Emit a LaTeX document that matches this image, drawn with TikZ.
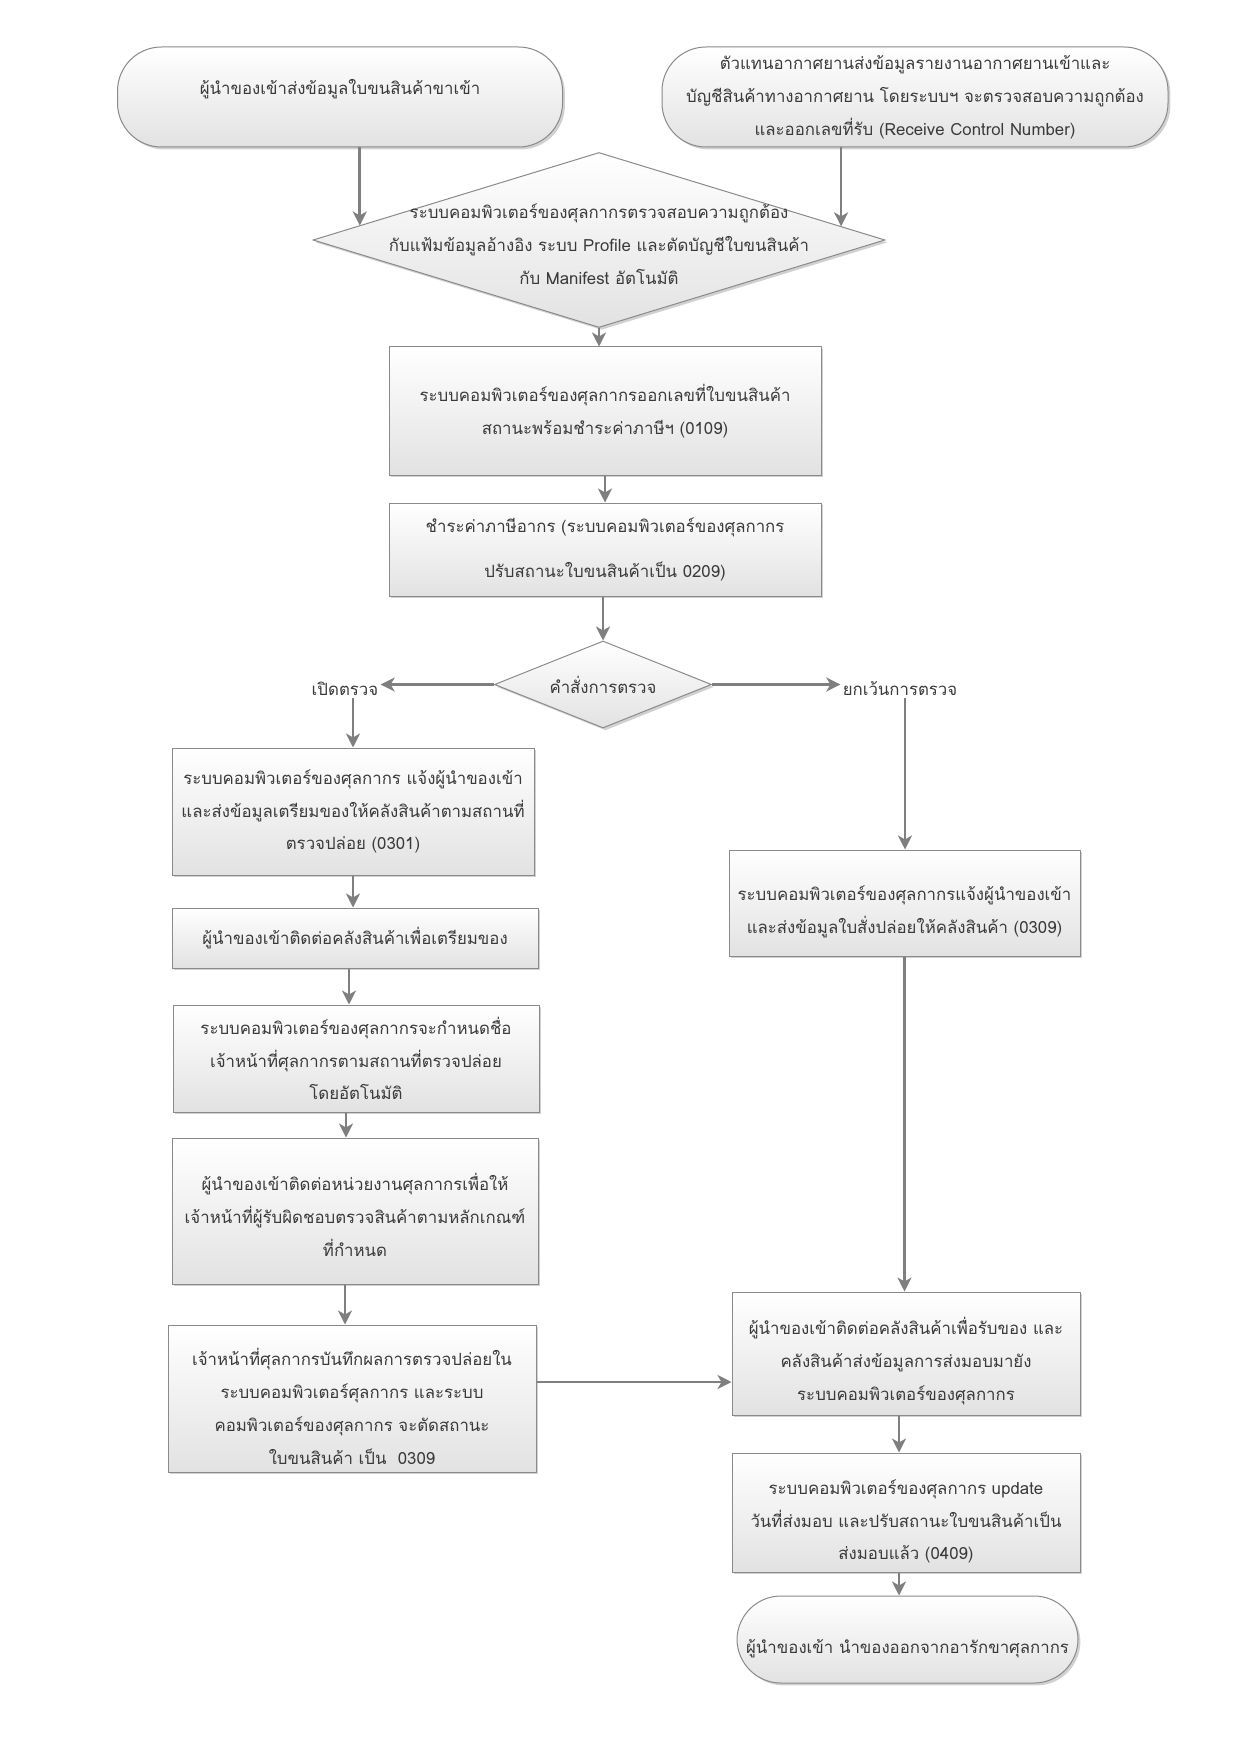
\documentclass[tikz,border=0pt]{standalone}
\usepackage{fontspec}
\newfontfamily\thai[Script=Thai]{Loma}
\usetikzlibrary{shapes.geometric,shadows,arrows.meta,calc}
\definecolor{edgec}{HTML}{8A8A8A}
\definecolor{arrowc}{HTML}{7F7F7F}
\definecolor{txtc}{HTML}{3A3A3A}
\definecolor{shadebot}{HTML}{E2E2E2}
\tikzset{
  basebox/.style={draw=edgec, line width=0.5pt, top color=white, bottom color=shadebot,
    inner sep=0pt, align=center, text=txtc, font=\thai\fontsize{8.4}{16.4}\selectfont,
    drop shadow={shadow xshift=1.2pt, shadow yshift=-1.2pt, opacity=0.18, fill=black}},
  procbox/.style={basebox, rectangle},
  termbox/.style={basebox, rectangle, rounded corners=22pt},
  diabox/.style={basebox, diamond},
  lbl/.style={text=txtc, align=center, inner sep=1pt, font=\thai\fontsize{8.4}{16.4}\selectfont},
  arr/.style={draw=arrowc, line width=1.3pt, -{Stealth[length=7pt,width=7pt,inset=2pt]}},
  sz/.style 2 args={minimum width={#1*0.5pt}, minimum height={#2*0.5pt}}
}
\begin{document}
\begin{tikzpicture}[x=0.5pt,y=-0.5pt]
\fill[white] (0,0) rectangle (1240,1754);
\useasboundingbox (0,0) rectangle (1240,1754);

\node[termbox, sz={445}{100}] (lt) at (340,97) {ผู้นำของเข้าส่งข้อมูลใบขนสินค้าขาเข้า\\[-6pt]\mbox{}};
\node[termbox, sz={506}{100}] (rt) at (915,97) {ตัวแทนอากาศยานส่งข้อมูลรายงานอากาศยานเข้าและ\\บัญชีสินค้าทางอากาศยาน โดยระบบฯ จะตรวจสอบความถูกต้อง\\และออกเลขที่รับ (Receive Control Number)};

\node[diabox, sz={572}{175}] (d1) at (599,240) {};
\node[lbl] (d1t) at (599,244) {ระบบคอมพิวเตอร์ของศุลกากรตรวจสอบความถูกต้อง\\กับแฟ้มข้อมูลอ้างอิง ระบบ Profile และตัดบัญชีใบขนสินค้า\\กับ Manifest อัตโนมัติ};

\node[procbox, sz={432}{128}] (b1) at (605,411) {ระบบคอมพิวเตอร์ของศุลกากรออกเลขที่ใบขนสินค้า\\สถานะพร้อมชำระค่าภาษีฯ (0109)};
\node[procbox, sz={432}{93}] (b2) at (605,549.5) {ชำระค่าภาษีอากร (ระบบคอมพิวเตอร์ของศุลกากร\\[6pt]ปรับสถานะใบขนสินค้าเป็น 0209)};

\node[diabox, sz={217}{87}] (d2) at (603,684.5) {};
\node[lbl] (d2t) at (d2.center) {คำสั่งการตรวจ};
\node[lbl] (ol) at (345,689) {เปิดตรวจ};
\node[lbl] (orr) at (900,689) {ยกเว้นการตรวจ};

\node[procbox, sz={362}{127}] (L1) at (353,811.5) {ระบบคอมพิวเตอร์ของศุลกากร แจ้งผู้นำของเข้า\\และส่งข้อมูลเตรียมของให้คลังสินค้าตามสถานที่\\ตรวจปล่อย (0301)};
\node[procbox, sz={366}{60}] (L2) at (355,938) {ผู้นำของเข้าติดต่อคลังสินค้าเพื่อเตรียมของ};
\node[procbox, sz={366}{107}] (L3) at (356,1058.5) {ระบบคอมพิวเตอร์ของศุลกากรจะกำหนดชื่อ\\เจ้าหน้าที่ศุลกากรตามสถานที่ตรวจปล่อย\\โดยอัตโนมัติ};
\node[procbox, sz={366}{146}] (L4) at (355,1211) {\mbox{}\\[-4pt]ผู้นำของเข้าติดต่อหน่วยงานศุลกากรเพื่อให้\\เจ้าหน้าที่ผู้รับผิดชอบตรวจสินค้าตามหลักเกณฑ์\\ที่กำหนด};
\node[procbox, sz={368}{147}] (L5) at (352,1398.5) {\mbox{}\\[0pt]เจ้าหน้าที่ศุลกากรบันทึกผลการตรวจปล่อยใน\\ระบบคอมพิวเตอร์ศุลกากร และระบบ\\คอมพิวเตอร์ของศุลกากร จะตัดสถานะ\\ใบขนสินค้า เป็น~ 0309};

\node[procbox, sz={351}{106}] (R1) at (904.5,903) {\mbox{}\\[0pt]ระบบคอมพิวเตอร์ของศุลกากรแจ้งผู้นำของเข้า\\และส่งข้อมูลใบสั่งปล่อยให้คลังสินค้า (0309)};
\node[procbox, sz={348}{123}] (R2) at (906,1353.5) {\mbox{}\\[0pt]ผู้นำของเข้าติดต่อคลังสินค้าเพื่อรับของ และ\\คลังสินค้าส่งข้อมูลการส่งมอบมายัง\\ระบบคอมพิวเตอร์ของศุลกากร};
\node[procbox, sz={348}{119}] (R3) at (906,1512.5) {\mbox{}\\[0pt]ระบบคอมพิวเตอร์ของศุลกากร update\\วันที่ส่งมอบ และปรับสถานะใบขนสินค้าเป็น\\ส่งมอบแล้ว (0409)};
\node[termbox, sz={341}{87}] (RT) at (907.5,1639.5) {\mbox{}\\[0pt]ผู้นำของเข้า นำของออกจากอารักขาศุลกากร};

\coordinate (a1) at ($(d1.west)!0.165!(d1.north)$);
\coordinate (a2) at ($(d1.east)!0.155!(d1.north)$);
\draw[arr] (lt.south -| a1) -- (a1);
\draw[arr] (rt.south -| a2) -- (a2);
\draw[arr] (d1.south) -- (d1.south |- b1.north);
\draw[arr] (b1.south) -- (b1.south |- b2.north);
\draw[arr] (b2.south -| d2.north) -- (d2.north);
\draw[arr] (d2.west) -- (d2.west -| ol.east);
\draw[arr] (d2.east) -- (d2.east -| orr.west);
\draw[arr] (ol.south -| L1.north) -- (L1.north);
\draw[arr] ([xshift=2.5pt]orr.south) -- ([xshift=2.5pt]orr.south |- R1.north);
\draw[arr] (L1.south) -- (L1.south |- L2.north);
\draw[arr] ([xshift=-3pt]L2.south) -- ([xshift=-3pt]L2.south |- L3.north);
\draw[arr] ([xshift=-5pt]L3.south) -- ([xshift=-5pt]L3.south |- L4.north);
\draw[arr] ([xshift=-5pt]L4.south) -- ([xshift=-5pt]L4.south |- L5.north);
\coordinate (hy) at (0,1382);
\draw[arr] (L5.east |- hy) -- (R2.west |- hy);
\draw[arr] (R1.south) -- (R1.south |- R2.north);
\draw[arr] ([xshift=-3.5pt]R2.south) -- ([xshift=-3.5pt]R2.south |- R3.north);
\draw[arr] ([xshift=-3.5pt]R3.south) -- ([xshift=-3.5pt]R3.south |- RT.north);
\end{tikzpicture}
\end{document}
